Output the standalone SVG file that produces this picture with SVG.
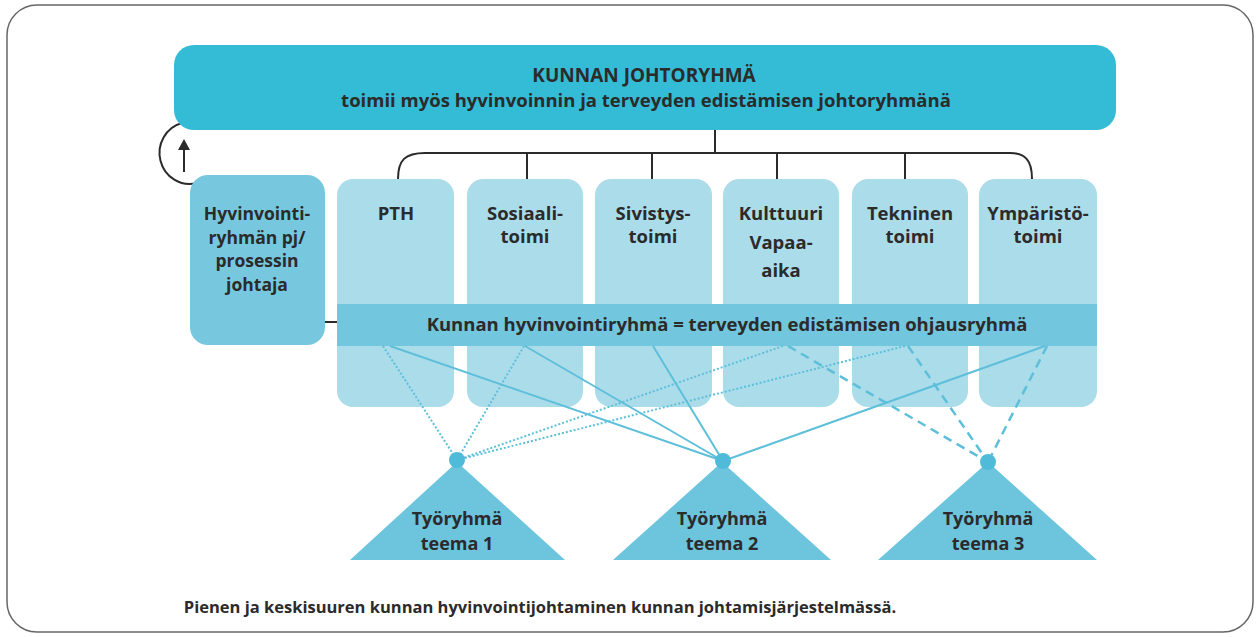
<svg xmlns="http://www.w3.org/2000/svg" width="1258" height="637" viewBox="0 0 1258 637">
<defs>
<style>
.t{font-family:"Open Sans","Liberation Sans",sans-serif;font-weight:700;fill:#2b2b2b;text-anchor:middle}
.c{font-size:18.5px}
.h{font-size:17.5px}
.col{fill:#ABDCEA}
.ln{stroke:#5DBFDA;stroke-width:2;fill:none}
.dot{stroke-dasharray:2 2}
.dash{stroke-dasharray:9 6;stroke-width:2.5}
.tri{fill:#6CC4DD}
.blk{stroke:#2b2b2b;stroke-width:2;fill:none}
</style>
</defs>
<rect x="0" y="0" width="1258" height="637" fill="#fff"/>
<rect x="7" y="5" width="1246" height="627" rx="30" ry="30" fill="none" stroke="#666" stroke-width="1.5"/>

<g id="connectors">
<path class="blk" d="M398,179 C398,160 405,153 425,153 L1010,153 C1025,153 1032,160 1032,179"/>
<path class="blk" d="M715,130 V153 M527,153 V179 M652,153 V179 M777,153 V179 M905,153 V179"/>
<path class="blk" d="M182,123 A29,30 0 1 0 197,183"/>
<path class="blk" d="M184,172 V146"/>
<path d="M184,139 L178,150 L190,150 Z" fill="#2b2b2b"/>
<path class="blk" d="M325,322 H337"/>
</g>

<g id="top">
<rect x="174" y="45" width="942" height="85" rx="20" fill="#34BCD7"/>
<text class="t" x="644" y="82" font-size="19">KUNNAN JOHTORYHMÄ</text>
<text class="t" x="646" y="107" font-size="18.5">toimii myös hyvinvoinnin ja terveyden edistämisen johtoryhmänä</text>
</g>

<g id="hyvinvointi">
<rect x="190" y="175" width="135" height="170" rx="18" fill="#77C8DF"/>
<text class="t h" x="257" y="220">Hyvinvointi-</text>
<text class="t h" x="257" y="243.5">ryhmän pj/</text>
<text class="t h" x="257" y="267">prosessin</text>
<text class="t h" x="257" y="290.5">johtaja</text>
</g>

<g id="pth"><rect class="col" x="337" y="179" width="117" height="228" rx="16"/>
<text class="t c" x="396" y="220">PTH</text></g>
<g id="sosiaali"><rect class="col" x="467" y="179" width="116" height="228" rx="16"/>
<text class="t c" x="525" y="220">Sosiaali-</text><text class="t c" x="525" y="243">toimi</text></g>
<g id="sivistys"><rect class="col" x="595" y="179" width="117" height="228" rx="16"/>
<text class="t c" x="653" y="220">Sivistys-</text><text class="t c" x="653" y="243">toimi</text></g>
<g id="kulttuuri"><rect class="col" x="723" y="179" width="116" height="228" rx="16"/>
<text class="t c" x="781" y="220">Kulttuuri</text><text class="t c" x="781" y="249">Vapaa-</text><text class="t c" x="781" y="277">aika</text></g>
<g id="tekninen"><rect class="col" x="852" y="179" width="116" height="228" rx="16"/>
<text class="t c" x="910" y="220">Tekninen</text><text class="t c" x="910" y="243">toimi</text></g>
<g id="ymparisto"><rect class="col" x="979" y="179" width="118" height="228" rx="16"/>
<text class="t c" x="1038" y="220">Ympäristö-</text><text class="t c" x="1038" y="243">toimi</text></g>

<g id="band">
<rect x="337" y="304" width="760" height="42" fill="#72C6DE"/>
<text class="t" x="727" y="331" font-size="18.5">Kunnan hyvinvointiryhmä = terveyden edistämisen ohjausryhmä</text>
</g>

<g id="links">
<path class="ln dot" d="M383,346 L457,460 M524,346 L457,460 M783,346 L457,460 M905,346 L457,460"/>
<path class="ln" d="M390,346 L723,461 M525,346 L723,461 M653,346 L723,461 M1045,346 L723,461"/>
<path class="ln dash" d="M788,346 L988,462 M908,346 L988,462 M1047,346 L988,462"/>
</g>

<g id="tyoryhma1">
<path class="tri" d="M457,462 L565,560 L350,560 Z"/>
<circle cx="457" cy="460" r="8" fill="#4FBBD9"/>
<text class="t" x="457" y="525" font-size="18">Työryhmä</text>
<text class="t" x="457" y="550" font-size="18">teema 1</text>
</g>
<g id="tyoryhma2">
<path class="tri" d="M722,462 L831,560 L613,560 Z"/>
<circle cx="723" cy="461" r="8" fill="#4FBBD9"/>
<text class="t" x="722" y="525" font-size="18">Työryhmä</text>
<text class="t" x="722" y="550" font-size="18">teema 2</text>
</g>
<g id="tyoryhma3">
<path class="tri" d="M988,462 L1097,560 L878,560 Z"/>
<circle cx="988" cy="462" r="8" fill="#4FBBD9"/>
<text class="t" x="988" y="525" font-size="18">Työryhmä</text>
<text class="t" x="988" y="550" font-size="18">teema 3</text>
</g>

<text class="t" x="540" y="613" font-size="16.5">Pienen ja keskisuuren kunnan hyvinvointijohtaminen kunnan johtamisjärjestelmässä.</text>
</svg>
